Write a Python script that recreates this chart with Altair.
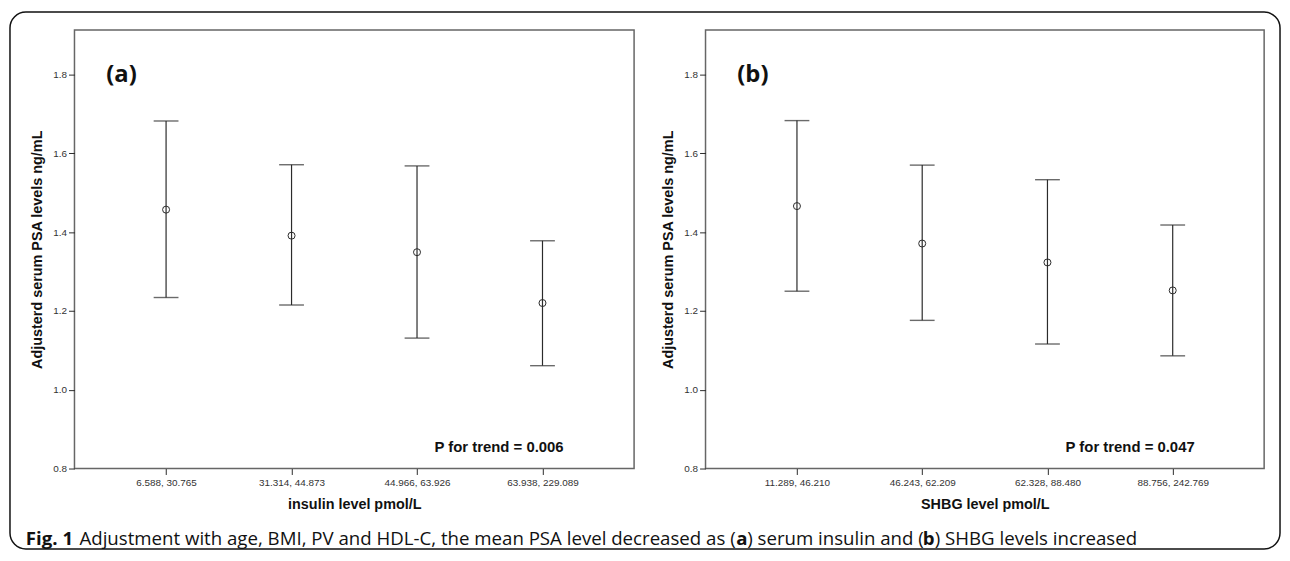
import altair as alt
import pandas as pd

# ---- data ----
insulin_cats = ["6.588, 30.765", "31.314, 44.873", "44.966, 63.926", "63.938, 229.089"]
insulin_mean = [1.457, 1.391, 1.349, 1.220]
insulin_lo = [1.234, 1.215, 1.131, 1.061]
insulin_hi = [1.682, 1.571, 1.568, 1.378]

shbg_cats = ["11.289, 46.210", "46.243, 62.209", "62.328, 88.480", "88.756, 242.769"]
shbg_mean = [1.466, 1.371, 1.323, 1.252]
shbg_lo = [1.250, 1.176, 1.116, 1.086]
shbg_hi = [1.683, 1.570, 1.533, 1.418]

y_ticks = [0.8, 1.0, 1.2, 1.4, 1.6, 1.8]
y_title = "Adjusterd serum PSA levels ng/mL"

cap_segs = ["Fig. 1",
            "Adjustment with age, BMI, PV and HDL-C, the mean PSA level decreased as (",
            "a", ") serum insulin and (", "b", ") SHBG levels increased"]
cap_bold = [True, False, True, False, True, False]
cap_x = [25, 79, 741, 752, 929, 941]   # page x positions of caption pieces

PW, PH = 564, 442
OX, OY = 74, 26          # page position of panel (a) plot area
INK = "#2b2b2b"
AXF = "Liberation Sans"


def panel(cats, mean, lo, hi, xtitle, tag, ptext):
    df = pd.DataFrame({"cat": cats, "mean": mean, "lo": lo, "hi": hi})
    xenc = alt.X(
        "cat:N", sort=cats,
        scale=alt.Scale(type="point", padding=0.73),
        axis=alt.Axis(title=xtitle, labelAngle=0, tickSize=6, tickColor=INK,
                      domain=False, labelFont=AXF, labelFontSize=10,
                      labelColor="#333", labelPadding=3,
                      titleFont=AXF, titleFontSize=14.5, titleFontWeight="bold",
                      titleColor="#111", titlePadding=10),
    )
    yscale = alt.Scale(domain=[0.8, 1.913], nice=False, zero=False)
    yaxis = alt.Axis(title=y_title, values=y_ticks, format=".1f", tickSize=6,
                     tickColor=INK, domain=False, grid=False, labelFont=AXF,
                     labelFontSize=10, labelColor="#333", labelPadding=2,
                     titleFont=AXF, titleFontSize=14.5, titleFontWeight="bold",
                     titleColor="#111", titlePadding=8)
    base = alt.Chart(df).encode(x=xenc)
    rule = base.mark_rule(color=INK, strokeWidth=1.2).encode(
        y=alt.Y("lo:Q", scale=yscale, axis=yaxis), y2="hi:Q")
    cap_lo = base.mark_tick(color=INK, size=25, thickness=1.4, orient="horizontal").encode(
        y=alt.Y("lo:Q", scale=yscale))
    cap_hi = base.mark_tick(color=INK, size=25, thickness=1.4, orient="horizontal").encode(
        y=alt.Y("hi:Q", scale=yscale))
    pts = base.mark_point(shape="circle", size=50, filled=False, color=INK,
                          strokeWidth=1, opacity=1).encode(
        y=alt.Y("mean:Q", scale=yscale))
    tagc = alt.Chart(pd.DataFrame({"t": [tag]})).mark_text(
        align="left", baseline="middle", font="Open Sans", fontWeight="bold",
        fontSize=24, color="#111").encode(text="t:N", x=alt.value(32), y=alt.value(45))
    pc = alt.Chart(pd.DataFrame({"t": [ptext]})).mark_text(
        align="right", baseline="middle", font=AXF, fontWeight="bold",
        fontSize=15, color="#111").encode(text="t:N", x=alt.value(PW - 71), y=alt.value(PH - 22))
    return [rule, cap_lo, cap_hi, pts, tagc, pc]


# caption pieces and outer frame, drawn in panel (a)'s coordinates
CAP_Y = 539 - OY
cap_layers = []
for seg, bold, px in zip(cap_segs, cap_bold, cap_x):
    cap_layers.append(
        alt.Chart(pd.DataFrame({"t": [seg]})).mark_text(
            align="left", baseline="middle", font="Open Sans",
            fontWeight="bold" if bold else "normal", fontSize=18.8, color="#111"
        ).encode(text="t:N", x=alt.value(px - OX), y=alt.value(CAP_Y))
    )
border = alt.Chart(pd.DataFrame({"k": [0]})).mark_rect(
    fill="transparent", stroke="#111", strokeWidth=1.5, cornerRadius=16).encode(
    x=alt.value(9 - OX), x2=alt.value(1289 - OX),
    y=alt.value(8 - OY), y2=alt.value(549 - OY))

la = panel(insulin_cats, insulin_mean, insulin_lo, insulin_hi,
           "insulin level pmol/L", "(a)", "P for trend = 0.006")
lb = panel(shbg_cats, shbg_mean, shbg_lo, shbg_hi,
           "SHBG level pmol/L", "(b)", "P for trend = 0.047")

a = alt.layer(*la, border, *cap_layers).properties(width=PW, height=PH)
b = alt.layer(*lb).properties(width=PW - 1, height=PH)

chart = alt.hconcat(a, b, spacing=72, bounds="flush").properties(
    padding={"left": 0, "top": 0, "right": 0, "bottom": 0},
    background="white",
).configure_view(stroke="#666", strokeWidth=1.5)

chart.save("out.html", embed_options={"renderer": "svg", "actions": False})
